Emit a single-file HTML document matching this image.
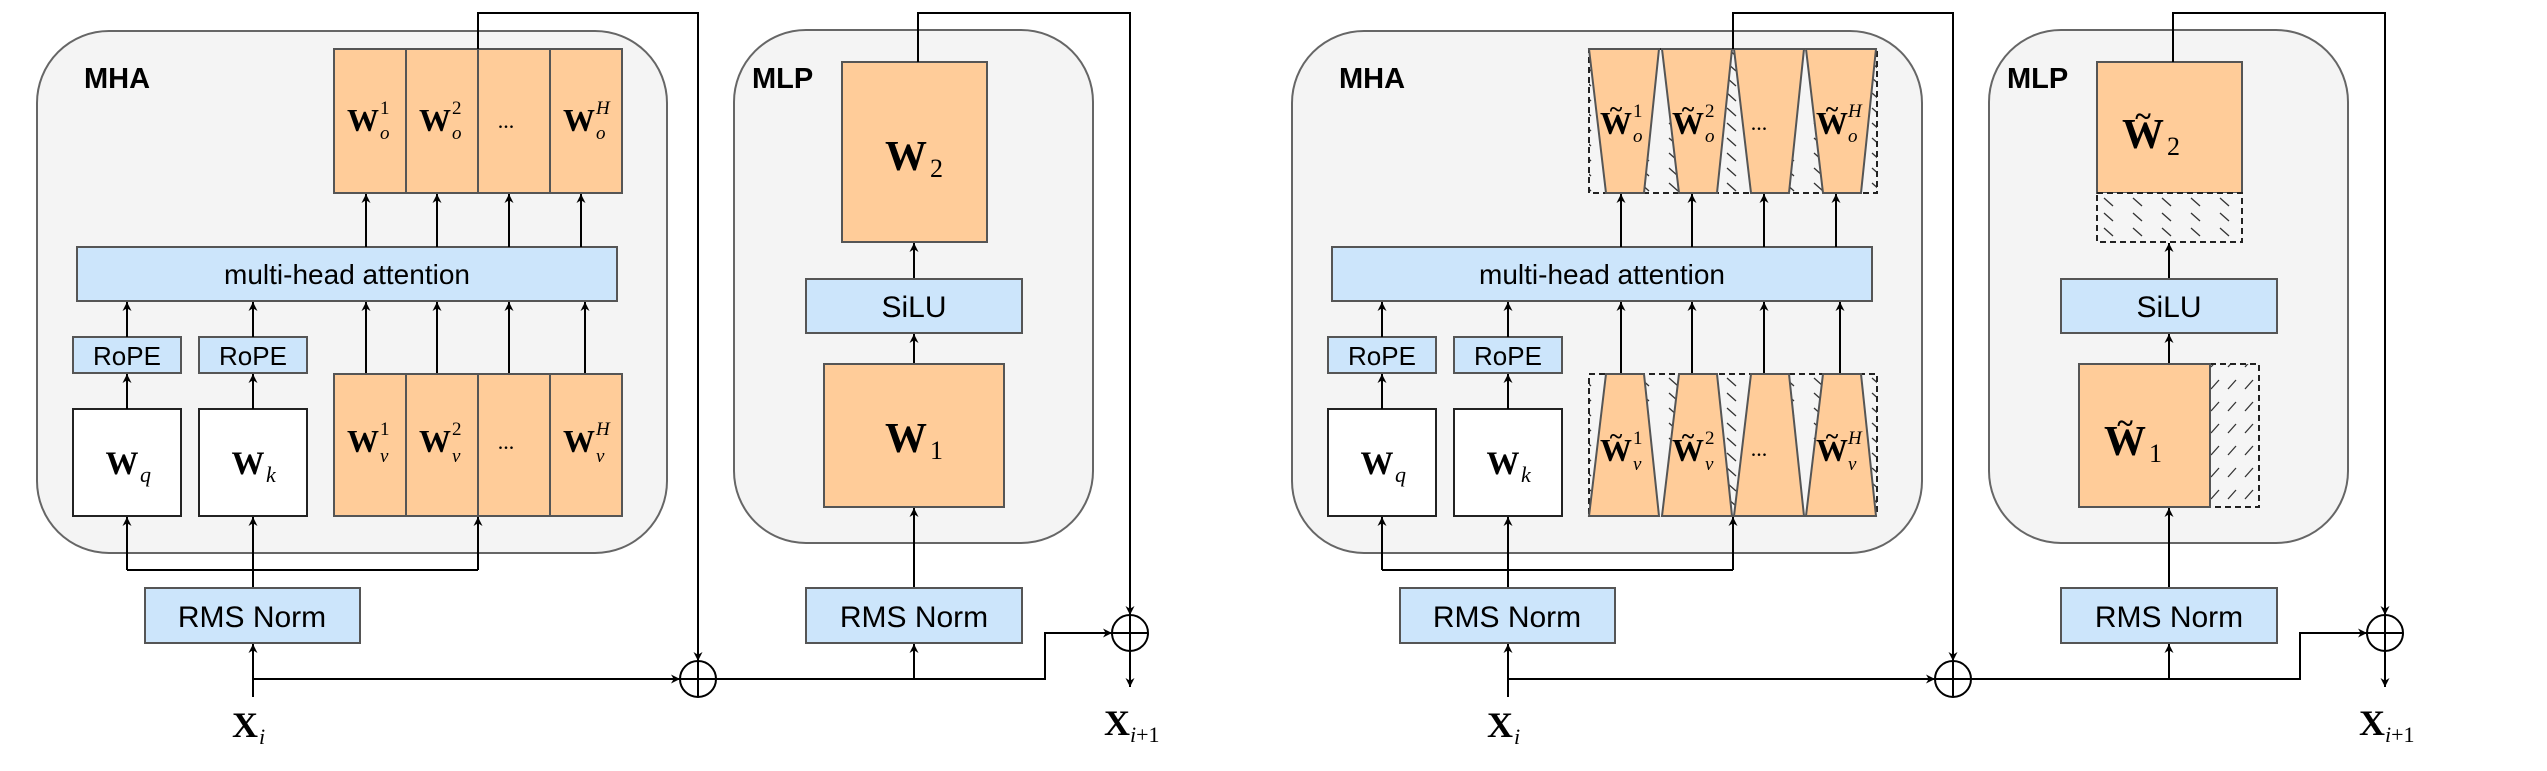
<!DOCTYPE html>
<html><head><meta charset="utf-8"><style>
html,body{margin:0;padding:0;background:#fff;}
svg{display:block;}
.sans{font-family:"Liberation Sans",sans-serif;}
.ser{font-family:"Liberation Serif",serif;}
</style></head><body>
<svg width="2547" height="771" viewBox="0 0 2547 771" xmlns="http://www.w3.org/2000/svg">
<defs>
<marker id="ar" viewBox="0 0 10 10" refX="10" refY="5" markerWidth="9" markerHeight="9" markerUnits="userSpaceOnUse" orient="auto">
<path d="M0,0 L10,5 L0,10 L3,5 z" fill="#000"/></marker>
<pattern id="hb" width="29" height="15" patternUnits="userSpaceOnUse">
<rect width="29" height="15" fill="#f5f5f5"/>
<line x1="8" y1="3" x2="17" y2="11" stroke="#333" stroke-width="1.3"/></pattern>
<pattern id="hf" width="17" height="22" patternUnits="userSpaceOnUse">
<rect width="17" height="22" fill="#f5f5f5"/>
<line x1="4" y1="15" x2="12" y2="6" stroke="#333" stroke-width="1.3"/></pattern>

<g id="common">
<rect x="37" y="31" width="630" height="522" rx="72" fill="#f4f4f4" stroke="#666" stroke-width="2"/>
<rect x="734" y="30" width="359" height="513" rx="72" fill="#f4f4f4" stroke="#666" stroke-width="2"/>
<text x="84" y="88" class="sans" font-size="29" font-weight="bold">MHA</text>
<text x="752" y="88" class="sans" font-size="29" font-weight="bold">MLP</text>
<rect x="77" y="247" width="540" height="54" fill="#cce5fb" stroke="#555" stroke-width="2"/>
<text x="347" y="284" class="sans" font-size="28" text-anchor="middle">multi-head attention</text>
<rect x="73" y="337" width="108" height="36" fill="#cce5fb" stroke="#555" stroke-width="2"/>
<rect x="199" y="337" width="108" height="36" fill="#cce5fb" stroke="#555" stroke-width="2"/>
<text x="127" y="365" class="sans" font-size="26" text-anchor="middle">RoPE</text>
<text x="253" y="365" class="sans" font-size="26" text-anchor="middle">RoPE</text>
<rect x="73" y="409" width="108" height="107" fill="#fff" stroke="#222" stroke-width="2"/>
<rect x="199" y="409" width="108" height="107" fill="#fff" stroke="#222" stroke-width="2"/>
<text x="122" y="474" class="ser" font-size="33" font-weight="bold" text-anchor="middle">W</text>
<text x="140" y="482" class="ser" font-size="22" font-style="italic">q</text>
<text x="248" y="474" class="ser" font-size="33" font-weight="bold" text-anchor="middle">W</text>
<text x="266" y="482" class="ser" font-size="22" font-style="italic">k</text>
<g stroke="#000" stroke-width="2" fill="none" marker-end="url(#ar)">
<line x1="127" y1="409" x2="127" y2="374"/>
<line x1="253" y1="409" x2="253" y2="374"/>
<line x1="127" y1="337" x2="127" y2="302"/>
<line x1="253" y1="337" x2="253" y2="302"/>
<line x1="366" y1="374" x2="366" y2="302"/>
<line x1="437" y1="374" x2="437" y2="302"/>
<line x1="509" y1="374" x2="509" y2="302"/>
<line x1="585" y1="374" x2="585" y2="302"/>
<line x1="366" y1="247" x2="366" y2="194"/>
<line x1="437" y1="247" x2="437" y2="194"/>
<line x1="509" y1="247" x2="509" y2="194"/>
<line x1="581" y1="247" x2="581" y2="194"/>
<polyline points="127,570 127,517"/>
<polyline points="253,588 253,517"/>
<polyline points="478,570 478,517"/>
<line x1="253" y1="697" x2="253" y2="644"/>
<line x1="253" y1="679" x2="680" y2="679"/>
<polyline points="478,49 478,13 698,13 698,661"/>
<polyline points="716,679 1045,679 1045,633 1112,633"/>
<line x1="914" y1="679" x2="914" y2="644"/>
<line x1="914" y1="588" x2="914" y2="508"/>
<line x1="914" y1="364" x2="914" y2="334"/>
<line x1="914" y1="279" x2="914" y2="243"/>
<polyline points="918,62 918,13 1130,13 1130,615"/>
<line x1="1130" y1="651" x2="1130" y2="687"/>
</g>
<line x1="127" y1="570" x2="478" y2="570" stroke="#000" stroke-width="2"/>
<rect x="145" y="588" width="215" height="55" fill="#cce5fb" stroke="#555" stroke-width="2"/>
<text x="252" y="627" class="sans" font-size="30" text-anchor="middle">RMS Norm</text>
<rect x="806" y="588" width="216" height="55" fill="#cce5fb" stroke="#555" stroke-width="2"/>
<text x="914" y="627" class="sans" font-size="30" text-anchor="middle">RMS Norm</text>
<rect x="806" y="279" width="216" height="54" fill="#cce5fb" stroke="#555" stroke-width="2"/>
<text x="914" y="317" class="sans" font-size="30" text-anchor="middle">SiLU</text>
<g fill="none" stroke="#000" stroke-width="2">
<circle cx="698" cy="679" r="18"/><line x1="680" y1="679" x2="716" y2="679"/><line x1="698" y1="661" x2="698" y2="697"/>
<circle cx="1130" cy="633" r="18"/><line x1="1112" y1="633" x2="1148" y2="633"/><line x1="1130" y1="615" x2="1130" y2="651"/>
</g>
<text x="245" y="737" class="ser" font-size="36" font-weight="bold" text-anchor="middle">X</text>
<text x="259" y="744" class="ser" font-size="22" font-style="italic">i</text>
<text x="1117" y="735" class="ser" font-size="36" font-weight="bold" text-anchor="middle">X</text>
<text x="1130" y="742" class="ser" font-size="22"><tspan font-style="italic">i</tspan>+1</text>
</g>
</defs>

<use href="#common"/>
<!-- left specific -->
<g stroke="#555" stroke-width="2" fill="#ffcc99">
<rect x="334" y="49" width="72" height="144"/><rect x="406" y="49" width="72" height="144"/>
<rect x="478" y="49" width="72" height="144"/><rect x="550" y="49" width="72" height="144"/>
<rect x="334" y="374" width="72" height="142"/><rect x="406" y="374" width="72" height="142"/>
<rect x="478" y="374" width="72" height="142"/><rect x="550" y="374" width="72" height="142"/>
<rect x="842" y="62" width="145" height="180"/>
<rect x="824" y="364" width="180" height="143"/>
</g>
<line x1="478" y1="49" x2="478" y2="13" stroke="#000" stroke-width="2"/>
<line x1="918" y1="62" x2="918" y2="13" stroke="#000" stroke-width="2"/>
<g class="ser">
<g font-size="32" font-weight="bold" text-anchor="middle">
<text x="363" y="131">W</text><text x="435" y="131">W</text><text x="579" y="131">W</text>
<text x="363" y="452">W</text><text x="435" y="452">W</text><text x="579" y="452">W</text>
<text x="906" y="170" font-size="42">W</text><text x="906" y="452" font-size="42">W</text>
</g>
<text x="506" y="128" font-size="22" text-anchor="middle">...</text>
<text x="506" y="449" font-size="22" text-anchor="middle">...</text>
<g font-size="19" font-style="italic">
<text x="380" y="114" font-style="normal">1</text><text x="380" y="139">o</text>
<text x="452" y="114" font-style="normal">2</text><text x="452" y="139">o</text>
<text x="596" y="114">H</text><text x="596" y="139">o</text>
<text x="380" y="435" font-style="normal">1</text><text x="380" y="462">v</text>
<text x="452" y="435" font-style="normal">2</text><text x="452" y="462">v</text>
<text x="596" y="435">H</text><text x="596" y="462">v</text>
</g>
<text x="930" y="177" font-size="26">2</text>
<text x="930" y="459" font-size="26">1</text>
</g>

<!-- right half -->
<g transform="translate(1255,0)">
<use href="#common"/>
<rect x="334" y="49" width="288" height="144" fill="url(#hb)" stroke="#222" stroke-width="2" stroke-dasharray="6,4"/>
<rect x="334" y="374" width="288" height="142" fill="url(#hb)" stroke="#222" stroke-width="2" stroke-dasharray="6,4"/>
<g stroke="#555" stroke-width="2" fill="#ffcc99">
<polygon points="334,49 404,49 389,193 351,193"/>
<polygon points="407,49 477,49 462,193 424,193"/>
<polygon points="479,49 549,49 534,193 496,193"/>
<polygon points="551,49 621,49 606,193 568,193"/>
<polygon points="351,374 389,374 404,516 334,516"/>
<polygon points="424,374 462,374 477,516 407,516"/>
<polygon points="496,374 534,374 549,516 479,516"/>
<polygon points="568,374 606,374 621,516 551,516"/>
<rect x="842" y="62" width="145" height="131"/>
</g>
<rect x="842" y="193" width="145" height="49" fill="url(#hb)" stroke="#222" stroke-width="2" stroke-dasharray="6,4"/>
<rect x="955" y="364" width="49" height="143" fill="url(#hf)" stroke="#222" stroke-width="2" stroke-dasharray="6,4"/>
<rect x="824" y="364" width="131" height="143" fill="#ffcc99" stroke="#555" stroke-width="2"/>
<line x1="478" y1="49" x2="478" y2="13" stroke="#000" stroke-width="2"/>
<line x1="918" y1="62" x2="918" y2="13" stroke="#000" stroke-width="2"/>
<g class="ser">
<g font-size="32" font-weight="bold" text-anchor="middle">
<text x="361" y="134">W</text><text x="433" y="134">W</text><text x="577" y="134">W</text>
<text x="361" y="461">W</text><text x="433" y="461">W</text><text x="577" y="461">W</text>
<text x="888" y="148" font-size="42">W</text><text x="870" y="455" font-size="42">W</text>
</g>
<g font-size="24" text-anchor="middle" font-weight="bold">
<text x="361" y="117">~</text><text x="433" y="117">~</text><text x="577" y="117">~</text>
<text x="361" y="444">~</text><text x="433" y="444">~</text><text x="577" y="444">~</text>
<text x="888" y="126" font-size="30">~</text><text x="870" y="433" font-size="30">~</text>
</g>
<text x="504" y="130" font-size="22" text-anchor="middle">...</text>
<text x="504" y="456" font-size="22" text-anchor="middle">...</text>
<g font-size="19" font-style="italic">
<text x="378" y="117" font-style="normal">1</text><text x="378" y="142">o</text>
<text x="450" y="117" font-style="normal">2</text><text x="450" y="142">o</text>
<text x="593" y="117">H</text><text x="593" y="142">o</text>
<text x="378" y="444" font-style="normal">1</text><text x="378" y="470">v</text>
<text x="450" y="444" font-style="normal">2</text><text x="450" y="470">v</text>
<text x="593" y="444">H</text><text x="593" y="470">v</text>
</g>
<text x="912" y="155" font-size="26">2</text>
<text x="894" y="462" font-size="26">1</text>
</g>
</g>
</svg>
</body></html>
